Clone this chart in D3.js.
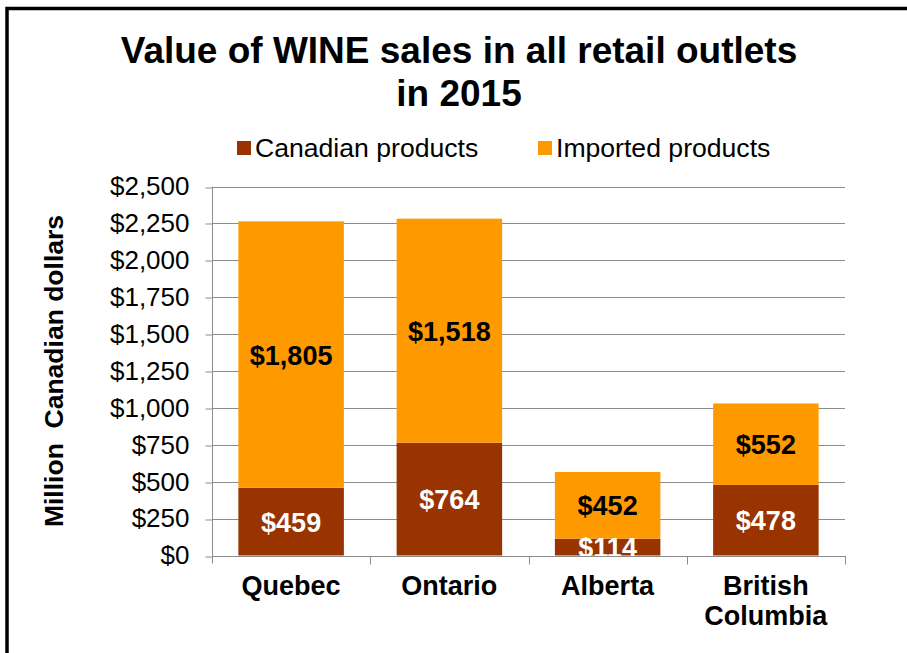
<!doctype html>
<html lang="en">
<head>
    <meta charset="utf-8">
    <title>Value of WINE sales in all retail outlets in 2015</title>
    <script src="https://d3js.org/d3.v7.min.js"></script>
    <style>
        body {
            margin: 0;
            padding: 0;
            background: #ffffff;
        }
        svg {
            display: block;
            font-family: 'Liberation Sans', Arial, sans-serif;
        }
        .grid line { stroke: #8c8c8c; stroke-width: 1; }
    </style>
</head>
<body>
    <div class="home"></div>
    <script>
        // chart data
        const regions = ["Quebec", "Ontario", "Alberta", "British Columbia"];
        const canadian = [459, 764, 114, 478];
        const imported = [1805, 1518, 452, 552];
        const seriesNames = ["Canadian products", "Imported products"];
        const seriesColors = ["#993300", "#ff9900"];
        const yTicks = [0, 250, 500, 750, 1000, 1250, 1500, 1750, 2000, 2250, 2500];

        const width = 907, height = 653;
        const svg = d3.select(".home").append("svg")
            .attr("width", width)
            .attr("height", height);

        // outer frame (right/bottom edges fall outside the picture)
        svg.append("rect")
            .attr("x", 7).attr("y", 8.5)
            .attr("width", 940).attr("height", 700)
            .attr("fill", "none")
            .attr("stroke", "#000")
            .attr("stroke-width", 3.5);

        // plot area
        const plotL = 212, plotR = 845, plotT = 186.5, plotB = 555.5;

        const x = d3.scaleBand()
            .domain(regions)
            .range([plotL, plotR])
            .paddingInner(1 / 3)
            .paddingOuter(1 / 6);

        const y = d3.scaleLinear()
            .domain([0, 2500])
            .range([plotB, plotT]);

        // stacked layout
        const rows = regions.map((r, i) => ({region: r, canadian: canadian[i], imported: imported[i]}));
        const stack = d3.stack().keys(["canadian", "imported"])(rows);

        // gridlines
        svg.append("g").attr("class", "grid")
            .selectAll("line")
            .data(yTicks.filter(d => d > 0))
            .join("line")
            .attr("x1", plotL).attr("x2", plotR)
            .attr("y1", d => Math.round(y(d)) + 0.5)
            .attr("y2", d => Math.round(y(d)) + 0.5);

        // bars
        const g = svg.append("g");
        g.selectAll("g.series")
            .data(stack)
            .join("g")
            .attr("class", "series")
            .attr("fill", (d, i) => seriesColors[i])
            .selectAll("rect")
            .data(d => d)
            .join("rect")
            .attr("x", d => x(d.data.region))
            .attr("width", x.bandwidth())
            .attr("y", d => y(d[1]))
            .attr("height", d => y(d[0]) - y(d[1]));

        // y axis
        const yAxis = d3.axisLeft(y)
            .tickValues(yTicks)
            .tickSize(7)
            .tickPadding(16)
            .tickFormat(d => "$" + d3.format(",")(d));
        const ya = svg.append("g")
            .attr("transform", "translate(" + (plotL + 0.5) + ",0)")
            .call(yAxis);
        ya.select(".domain").attr("stroke", "#8c8c8c").attr("d", "M0," + plotT + "V" + (plotB + 8));
        ya.selectAll(".tick line").attr("stroke", "#8c8c8c")
            .attr("transform", d => "translate(0," + (Math.round(y(d)) + 0.5 - y(d)) + ")");
        ya.selectAll(".tick text")
            .attr("font-size", 26)
            .attr("font-family", "'Liberation Sans', Arial, sans-serif")
            .attr("fill", "#000");

        // x axis baseline and category boundary ticks
        const step = x.step();
        const bounds = regions.map(r => x(r) - step * x.paddingInner() / 2).concat([plotR]);
        const xa = svg.append("g");
        xa.append("line")
            .attr("x1", plotL).attr("x2", plotR)
            .attr("y1", Math.round(plotB) + 0.5).attr("y2", Math.round(plotB) + 0.5)
            .attr("stroke", "#8c8c8c");
        xa.selectAll("line.tk")
            .data(bounds.slice(1))
            .join("line")
            .attr("class", "tk")
            .attr("x1", d => Math.round(d) + 0.5).attr("x2", d => Math.round(d) + 0.5)
            .attr("y1", Math.round(plotB)).attr("y2", plotB + 9)
            .attr("stroke", "#8c8c8c");

        // category labels
        xa.selectAll("text")
            .data(regions)
            .join("text")
            .attr("text-anchor", "middle")
            .attr("font-weight", "bold")
            .attr("font-size", 27)
            .attr("x", d => x(d) + x.bandwidth() / 2)
            .attr("y", 595)
            .each(function (d) {
                const words = d.split(" ");
                const t = d3.select(this);
                words.forEach((w, i) => {
                    t.append("tspan")
                        .attr("x", x(d) + x.bandwidth() / 2)
                        .attr("dy", i === 0 ? 0 : 30)
                        .text(w);
                });
            });

        // data labels
        stack.forEach((s, si) => {
            g.append("g").selectAll("text")
                .data(s)
                .join("text")
                .attr("text-anchor", "middle")
                .attr("dominant-baseline", "central")
                .attr("font-weight", "bold")
                .attr("font-size", 27)
                .attr("fill", si === 0 ? "#ffffff" : "#000000")
                .attr("x", d => x(d.data.region) + x.bandwidth() / 2)
                .attr("y", d => (y(d[0]) + y(d[1])) / 2 + 1)
                .text(d => "$" + d3.format(",")(d[1] - d[0]));
        });

        // y axis title
        svg.append("text")
            .attr("transform", "translate(63,371) rotate(-90)")
            .attr("text-anchor", "middle")
            .attr("font-weight", "bold")
            .attr("font-size", 26.5)
            .style("white-space", "pre")
            .text("Million  Canadian dollars");

        // title
        const title = svg.append("text")
            .attr("text-anchor", "middle")
            .attr("font-weight", "bold")
            .attr("font-size", 37);
        title.append("tspan").attr("x", 459).attr("y", 63).text("Value of WINE sales in all retail outlets");
        title.append("tspan").attr("x", 459).attr("y", 106).text("in 2015");

        // legend
        const legX = [237, 538];
        const leg = svg.append("g").selectAll("g")
            .data(seriesNames)
            .join("g")
            .attr("transform", (d, i) => "translate(" + legX[i] + ",0)");
        leg.append("rect")
            .attr("x", 0).attr("y", 141)
            .attr("width", 14).attr("height", 14)
            .attr("fill", (d, i) => seriesColors[i]);
        leg.append("text")
            .attr("x", 18).attr("y", 157)
            .attr("font-size", 26.6)
            .text(d => d);
    </script>
</body>
</html>
